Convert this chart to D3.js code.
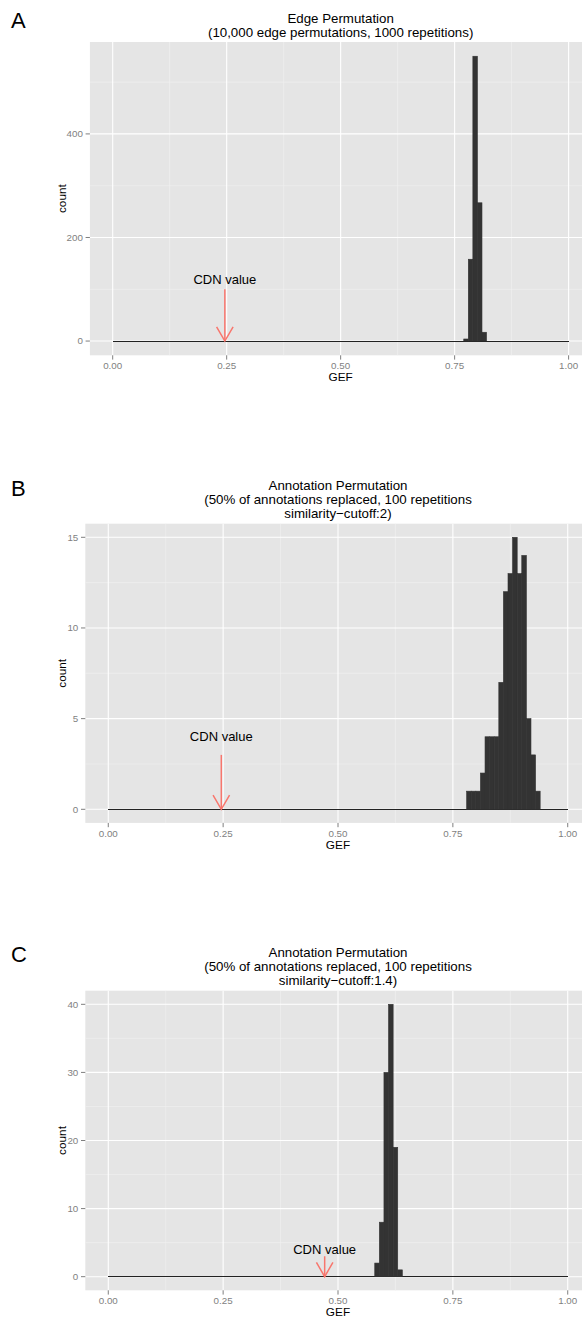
<!DOCTYPE html>
<html>
<head>
<meta charset="utf-8">
<script src="https://cdn.jsdelivr.net/npm/d3@7"></script>
<style>
  html, body { margin: 0; padding: 0; background: #fff; }
  svg { display: block; }
  text { font-family: "Liberation Sans", Arial, Helvetica, sans-serif; }
</style>
</head>
<body>
<div id="chart"></div>
<script>
// ---------------- data ----------------
const binWidth = 0.01;

const binStartsA = [0.77, 0.78, 0.79, 0.80, 0.81];
const countsA    = [4, 158, 550, 267, 17];

const binStartsB = [0.78, 0.79, 0.80, 0.81, 0.82, 0.83, 0.84, 0.85, 0.86, 0.87, 0.88, 0.89, 0.90, 0.91, 0.92, 0.93];
const countsB    = [1, 1, 1, 2, 4, 4, 4, 7, 12, 13, 15, 13, 14, 5, 3, 1];

const binStartsC = [0.58, 0.59, 0.60, 0.61, 0.62, 0.63];
const countsC    = [2, 8, 30, 40, 19, 1];

const xRange  = [0, 1];
const xTicks  = [0, 0.25, 0.5, 0.75, 1];
const xTickLabels = ["0.00", "0.25", "0.50", "0.75", "1.00"];
const yTicksA = [0, 200, 400];
const yTicksB = [0, 5, 10, 15];
const yTicksC = [0, 10, 20, 30, 40];

const panelLetters = ["A", "B", "C"];
const titleA = ["Edge Permutation", "(10,000 edge permutations, 1000 repetitions)"];
const titleB = ["Annotation Permutation", "(50% of annotations replaced, 100 repetitions", "similarity\u2212cutoff:2)"];
const titleC = ["Annotation Permutation", "(50% of annotations replaced, 100 repetitions", "similarity\u2212cutoff:1.4)"];

const cdnValues      = [0.246, 0.246, 0.471];
const arrowStartsY   = [100, 3, 3];
const cdnLabelY      = [120, 4, 4];
const cdnLabel       = "CDN value";
const xAxisTitle     = "GEF";
const yAxisTitle     = "count";

// ---------------- layout ----------------
const W = 582, H = 1318;
const panels = [
  { starts: binStartsA, counts: countsA, yTicks: yTicksA, title: titleA,
    left: 89.9, right: 591.4, top: 42.0, bottom: 355.3, letterY: 28 },
  { starts: binStartsB, counts: countsB, yTicks: yTicksB, title: titleB,
    left: 85.3, right: 590.7, top: 523.7, bottom: 822.9, letterY: 496 },
  { starts: binStartsC, counts: countsC, yTicks: yTicksC, title: titleC,
    left: 85.3, right: 590.7, top: 990.7, bottom: 1290.3, letterY: 962 }
];

const svg = d3.select("#chart").append("svg")
  .attr("width", W).attr("height", H)
  .attr("viewBox", `0 0 ${W} ${H}`);

svg.append("rect").attr("width", W).attr("height", H).attr("fill", "#fff");

panels.forEach((p, i) => {
  const yMax = d3.max(p.counts);
  const x = d3.scaleLinear()
    .domain([xRange[0] - 0.05 * (xRange[1] - xRange[0]), xRange[1] + 0.05 * (xRange[1] - xRange[0])])
    .range([p.left, p.right]);
  const y = d3.scaleLinear()
    .domain([-0.05 * yMax, 1.05 * yMax])
    .range([p.bottom, p.top]);

  const g = svg.append("g");

  // panel background
  g.append("rect")
    .attr("x", p.left).attr("y", p.top)
    .attr("width", p.right - p.left).attr("height", p.bottom - p.top)
    .attr("fill", "#e5e5e5");

  // minor grid
  const xMinor = xTicks.slice(0, -1).map((t, k) => (t + xTicks[k + 1]) / 2);
  const yStep = p.yTicks[1] - p.yTicks[0];
  const yMinor = p.yTicks.map(t => t + yStep / 2).filter(v => y(v) > p.top);
  g.selectAll(".xminor").data(xMinor).enter().append("line")
    .attr("x1", d => x(d)).attr("x2", d => x(d))
    .attr("y1", p.top).attr("y2", p.bottom)
    .attr("stroke", "#f2f2f2").attr("stroke-width", 0.6);
  g.selectAll(".yminor").data(yMinor).enter().append("line")
    .attr("y1", d => y(d)).attr("y2", d => y(d))
    .attr("x1", p.left).attr("x2", p.right)
    .attr("stroke", "#f2f2f2").attr("stroke-width", 0.6);

  // major grid
  g.selectAll(".xmajor").data(xTicks).enter().append("line")
    .attr("x1", d => x(d)).attr("x2", d => x(d))
    .attr("y1", p.top).attr("y2", p.bottom)
    .attr("stroke", "#ffffff").attr("stroke-width", 1.1);
  g.selectAll(".ymajor").data(p.yTicks).enter().append("line")
    .attr("y1", d => y(d)).attr("y2", d => y(d))
    .attr("x1", p.left).attr("x2", p.right)
    .attr("stroke", "#ffffff").attr("stroke-width", 1.1);

  // zero baseline across range
  g.append("line")
    .attr("x1", x(xRange[0])).attr("x2", x(xRange[1]))
    .attr("y1", y(0)).attr("y2", y(0))
    .attr("stroke", "#222222").attr("stroke-width", 1)
    .attr("shape-rendering", "crispEdges");

  // bars
  const bins = p.starts.map((s, k) => ({ s, c: p.counts[k] }));
  g.selectAll(".bar").data(bins).enter().append("rect")
    .attr("x", d => x(d.s))
    .attr("width", d => x(d.s + binWidth) - x(d.s))
    .attr("y", d => y(d.c))
    .attr("height", d => y(0) - y(d.c))
    .attr("fill", "#333333")
    .attr("stroke", "#333333").attr("stroke-width", 0.6);

  // CDN arrow
  const ax = x(cdnValues[i]);
  const ay0 = y(arrowStartsY[i]), ay1 = y(0);
  const headLen = 16.5, ang = Math.PI / 6;
  const arrowColor = "#F8766D";
  g.append("line")
    .attr("x1", ax).attr("x2", ax).attr("y1", ay0).attr("y2", ay1)
    .attr("stroke", arrowColor).attr("stroke-width", 1.5);
  g.append("path")
    .attr("d", `M${ax - headLen * Math.sin(ang)},${ay1 - headLen * Math.cos(ang)} L${ax},${ay1} L${ax + headLen * Math.sin(ang)},${ay1 - headLen * Math.cos(ang)}`)
    .attr("fill", "none").attr("stroke", arrowColor).attr("stroke-width", 1.5);
  g.append("text")
    .attr("x", ax).attr("y", y(cdnLabelY[i]))
    .attr("dy", "0.36em")
    .attr("text-anchor", "middle")
    .attr("font-size", 13).attr("fill", "#000")
    .text(cdnLabel);

  // x axis ticks & labels
  g.selectAll(".xtick").data(xTicks).enter().append("line")
    .attr("x1", d => x(d)).attr("x2", d => x(d))
    .attr("y1", p.bottom).attr("y2", p.bottom + 4.3)
    .attr("stroke", "#7f7f7f").attr("stroke-width", 1);
  g.selectAll(".xlab").data(xTicks).enter().append("text")
    .attr("x", d => x(d)).attr("y", p.bottom + 13.6)
    .attr("text-anchor", "middle")
    .attr("font-size", 9.8).attr("fill", "#7f7f7f")
    .text((d, k) => xTickLabels[k]);

  // y axis ticks & labels
  g.selectAll(".ytick").data(p.yTicks).enter().append("line")
    .attr("x1", p.left - 4.3).attr("x2", p.left)
    .attr("y1", d => y(d)).attr("y2", d => y(d))
    .attr("stroke", "#7f7f7f").attr("stroke-width", 1);
  g.selectAll(".ylab").data(p.yTicks).enter().append("text")
    .attr("x", p.left - 7).attr("y", d => y(d))
    .attr("dy", "0.35em")
    .attr("text-anchor", "end")
    .attr("font-size", 9.8).attr("fill", "#7f7f7f")
    .text(d => d3.format("d")(d));

  // axis titles
  g.append("text")
    .attr("x", (p.left + p.right) / 2).attr("y", p.bottom + 21.5)
    .attr("dy", "0.36em")
    .attr("text-anchor", "middle")
    .attr("font-size", 11.8).attr("fill", "#000")
    .text(xAxisTitle);
  g.append("text")
    .attr("transform", `translate(62,${(p.top + p.bottom) / 2}) rotate(-90)`)
    .attr("dy", "0.36em")
    .attr("text-anchor", "middle")
    .attr("font-size", 11.8).attr("fill", "#000")
    .text(yAxisTitle);

  // title
  const nLines = p.title.length;
  const lineH = 14;
  const lastCenter = p.top - 10;
  g.selectAll(".title").data(p.title).enter().append("text")
    .attr("x", (p.left + p.right) / 2)
    .attr("y", (d, k) => lastCenter - (nLines - 1 - k) * lineH)
    .attr("dy", "0.36em")
    .attr("text-anchor", "middle")
    .attr("font-size", 13.3).attr("fill", "#000")
    .text(d => d);

  // panel letter
  svg.append("text")
    .attr("x", 11).attr("y", p.letterY)
    .attr("font-size", 22)
    .attr("font-family", "Lato, 'Open Sans', sans-serif")
    .attr("fill", "#000")
    .text(panelLetters[i]);
});
</script>
</body>
</html>
